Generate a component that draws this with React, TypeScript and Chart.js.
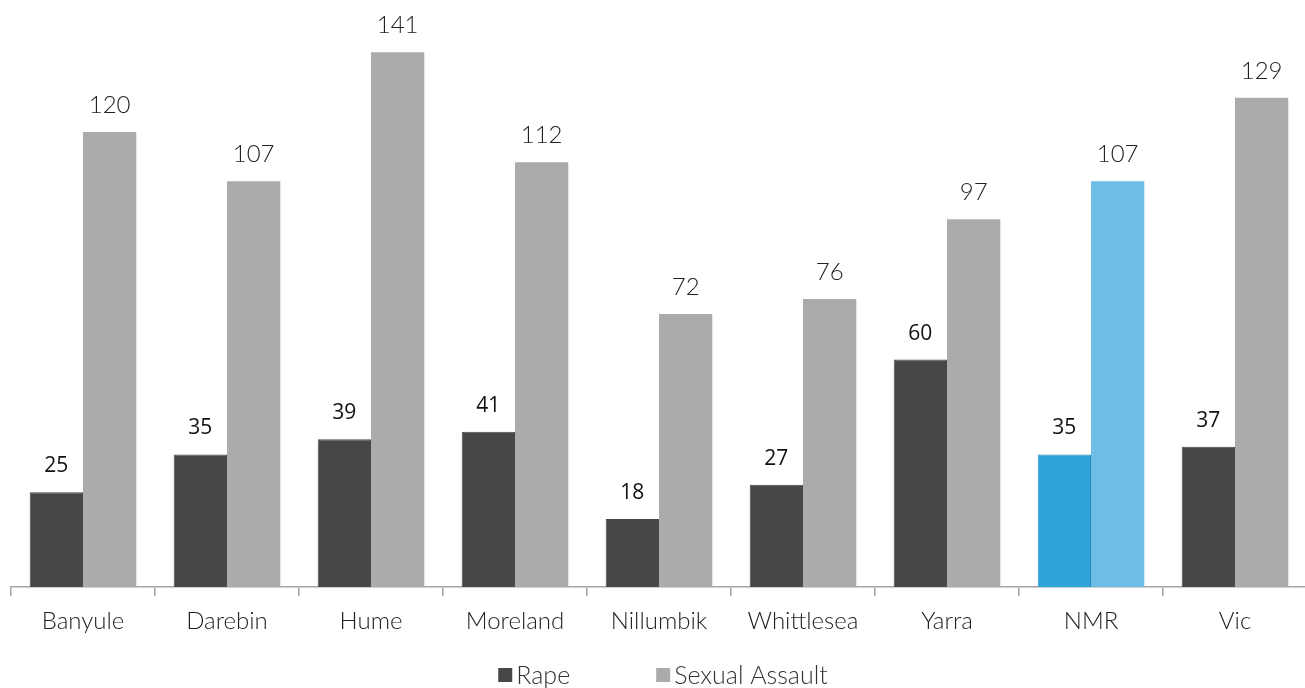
import React, { useEffect, useRef } from "react";
import { Chart, registerables } from "chart.js";

Chart.register(...registerables);

const categories = ["Banyule", "Darebin", "Hume", "Moreland", "Nillumbik", "Whittlesea", "Yarra", "NMR", "Vic"];
const rapeValues = [25, 35, 39, 41, 18, 27, 60, 35, 37];
const sexualAssaultValues = [120, 107, 141, 112, 72, 76, 97, 107, 129];
const seriesNames = ["Rape", "Sexual Assault"];
const highlightCategory = "NMR";

const RAPE_COLOR = "#474747";
const SA_COLOR = "#ababab";
const RAPE_HL = "#2fa4dc";
const RAPE_HL_BORDER = "#2688b8";
const SA_HL = "#6dbde6";

const LABEL_FONT = "Lato";

const valueLabelPlugin = {
  id: "valueLabels",
  afterDatasetsDraw(chart: any) {
    const ctx = chart.ctx;
    ctx.save();
    chart.data.datasets.forEach((ds: any, di: number) => {
      const meta = chart.getDatasetMeta(di);
      meta.data.forEach((bar: any, i: number) => {
        const v = ds.data[i];
        let off = 26;
        if (di === 0) {
          ctx.font = `500 21px "Open Sans"`;
          ctx.fillStyle = "#111111";
        } else {
          ctx.font = `300 24px ${LABEL_FONT}`;
          ctx.fillStyle = "#222222";
          off = 27;
        }
        ctx.textAlign = "center";
        ctx.textBaseline = "middle";
        ctx.fillText(String(v), bar.x, bar.y - off);
      });
    });
    ctx.restore();
  },
};

const legendPlugin = {
  id: "customLegend",
  afterDraw(chart: any) {
    const ctx = chart.ctx;
    const area = chart.chartArea;
    ctx.save();
    ctx.font = `300 25px ${LABEL_FONT}`;
    const box = 14;
    const gap = 4;
    const spacing = 86;
    const colors = [RAPE_COLOR, SA_COLOR];
    const widths = seriesNames.map((n) => box + gap + ctx.measureText(n).width);
    const total = widths.reduce((a, b) => a + b, 0) + spacing * (seriesNames.length - 1);
    let x = (area.left + area.right) / 2 - total / 2 + 4;
    const y = 676;
    seriesNames.forEach((n, i) => {
      ctx.fillStyle = colors[i];
      ctx.fillRect(x, y - box / 2 - 1, box, box);
      ctx.fillStyle = "#333333";
      ctx.textAlign = "left";
      ctx.textBaseline = "middle";
      ctx.fillText(n, x + box + gap, y);
      x += widths[i] + spacing;
    });
    ctx.restore();
  },
};

export default function App() {
  const ref = useRef<HTMLCanvasElement | null>(null);
  useEffect(() => {
    if (!ref.current) return;
    const rapeBg = categories.map((c) => (c === highlightCategory ? RAPE_HL : RAPE_COLOR));
    const rapeBorder = categories.map((c) => (c === highlightCategory ? RAPE_HL_BORDER : RAPE_COLOR));
    const saBg = categories.map((c) => (c === highlightCategory ? SA_HL : SA_COLOR));
    const chart = new Chart(ref.current, {
      type: "bar",
      data: {
        labels: categories,
        datasets: [
          {
            label: seriesNames[0],
            data: rapeValues,
            backgroundColor: rapeBg,
            borderColor: rapeBorder,
            borderWidth: 1,
            categoryPercentage: 0.74,
            barPercentage: 1.0,
          },
          {
            label: seriesNames[1],
            data: sexualAssaultValues,
            backgroundColor: saBg,
            borderWidth: 0,
            categoryPercentage: 0.74,
            barPercentage: 1.0,
          },
        ],
      },
      options: {
        responsive: false,
        animation: false,
        devicePixelRatio: 1,
        layout: { padding: { left: 11, right: 3, top: 3, bottom: 41 } },
        plugins: {
          legend: { display: false },
          tooltip: { enabled: false },
        },
        scales: {
          x: {
            grid: {
              display: true,
              drawOnChartArea: false,
              drawTicks: true,
              tickLength: 9,
              color: "#a6a6a6",
              lineWidth: 1.5,
              offset: true,
            },
            border: { display: true, color: "#a6a6a6", width: 1.5 },
            ticks: {
              color: "#222222",
              font: { family: LABEL_FONT, size: 24, weight: "300" as any },
              padding: 11,
              maxRotation: 0,
              autoSkip: false,
            },
          },
          y: {
            display: false,
            min: 0,
            max: 154,
          },
        },
      },
      plugins: [valueLabelPlugin, legendPlugin],
    });
    return () => chart.destroy();
  }, []);
  return (
    <div style={{ position: "fixed", left: 0, top: 0, width: 1305, height: 688, overflow: "hidden", background: "#fff" }}>
      <canvas ref={ref} width={1310} height={688} style={{ display: "block" }} />
    </div>
  );
}
